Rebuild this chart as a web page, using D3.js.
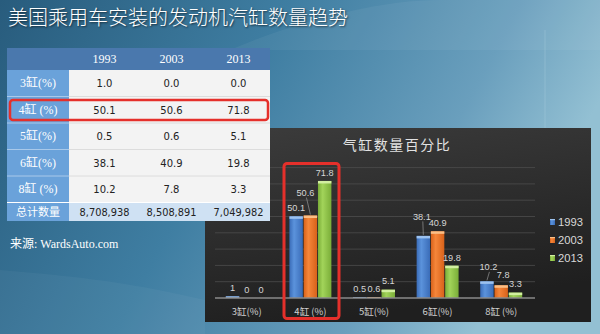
<!DOCTYPE html>
<html><head><meta charset="utf-8">
<script src="https://cdn.jsdelivr.net/npm/d3@7"></script>
<style>html,body{margin:0;padding:0;background:#2a5e7f;}svg{display:block;}</style>
</head><body>
<svg id="c" width="600" height="334"></svg>
<script>
// ---- data ----
const title = "美国乘用车安装的发动机汽缸数量趋势";
const chartTitle = "气缸数量百分比";
const categories = ["3缸(%)", "4缸 (%)", "5缸(%)", "6缸(%)", "8缸 (%)"];
const years = ["1993", "2003", "2013"];
const v1993 = [1.0, 50.1, 0.5, 38.1, 10.2];
const v2003 = [0.0, 50.6, 0.6, 40.9, 7.8];
const v2013 = [0.0, 71.8, 5.1, 19.8, 3.3];
const totals = [8708938, 8508891, 7049982];
const totalLabel = "总计数量";
const source = "来源: WardsAuto.com";
const yTicks = [0, 10, 20, 30, 40, 50, 60, 70, 80];

// ---- styling ----
const seriesVals = [v1993, v2003, v2013];
const colors = [
  {edge:"#3a6cb8", mid:"#5b93dc", cap:"#9cc2f0"},
  {edge:"#d8621a", mid:"#f5863a", cap:"#fbbf86"},
  {edge:"#7aad38", mid:"#a2d45a", cap:"#d2efa0"}
];
const labelNudge = {"1|1":[-5,-14.5], "3|0":[-1.5,-11], "4|0":[1.5,-6], "4|1":[2,-2]};

const svg = d3.select("#c");
const defs = svg.append("defs");

// background
const bg = defs.append("linearGradient").attr("id","bg").attr("x1","0").attr("y1","0").attr("x2","1").attr("y2","0.3");
bg.append("stop").attr("offset","0").attr("stop-color","#285c7d");
bg.append("stop").attr("offset","0.45").attr("stop-color","#3f7ea2");
bg.append("stop").attr("offset","0.8").attr("stop-color","#6a9fbd");
bg.append("stop").attr("offset","1").attr("stop-color","#93c0d3");
svg.append("rect").attr("width",600).attr("height",334).attr("fill","url(#bg)");
svg.append("path").attr("d","M230,50 C300,20 380,0 440,0 L600,0 L600,50 Z").attr("fill","#ffffff").attr("opacity",0.05);
svg.append("path").attr("d","M0,270 C60,275 120,280 205,300 L205,334 L0,334 Z").attr("fill","#ffffff").attr("opacity",0.04);
svg.append("line").attr("x1",545).attr("x2",545).attr("y1",30).attr("y2",128).attr("stroke","#b8d8e6").attr("stroke-width",0.6).attr("opacity",0.5);

// title
svg.append("text").attr("x",8).attr("y",25).text(title)
  .attr("font-family","'Noto Sans CJK SC'").attr("font-size",20).attr("font-weight",300).attr("fill","#ffffff")
  .style("text-shadow","1px 1px 2px rgba(0,0,0,0.6)");

// ---- chart panel ----
const pg = defs.append("linearGradient").attr("id","panel").attr("x1","0").attr("y1","0").attr("x2","0.3").attr("y2","1");
pg.append("stop").attr("offset","0").attr("stop-color","#3c3c3c");
pg.append("stop").attr("offset","1").attr("stop-color","#1f1f1f");
svg.append("rect").attr("x",205).attr("y",128).attr("width",386).attr("height",194).attr("fill","url(#panel)");

svg.append("text").attr("x",397).attr("y",150).attr("text-anchor","middle").text(chartTitle)
  .attr("font-family","'Noto Sans CJK SC'").attr("font-size",14).attr("letter-spacing",1.5).attr("fill","#e2e2e2");

const x0 = d3.scaleBand().domain(categories).range([215,533]).paddingInner(0.34).paddingOuter(0.17);
const x1 = d3.scaleBand().domain(years).range([0, x0.bandwidth()]).paddingInner(0.06);
const y = d3.scaleLinear().domain([0,80]).range([298,167.6]);

// gridlines
svg.append("g").selectAll("line").data(yTicks.slice(1)).join("line")
  .attr("x1",215).attr("x2",535).attr("y1",d=>y(d)).attr("y2",d=>y(d))
  .attr("stroke","#4d4d4d").attr("stroke-width",0.8);

// gradients for bars
colors.forEach((c,i)=>{
  const g = defs.append("linearGradient").attr("id","bar"+i).attr("x1","0").attr("x2","1").attr("y1","0").attr("y2","0");
  g.append("stop").attr("offset","0").attr("stop-color",c.edge);
  g.append("stop").attr("offset","0.35").attr("stop-color",c.mid);
  g.append("stop").attr("offset","1").attr("stop-color",c.edge);
});

const rows = [];
categories.forEach((cat,ci)=>{
  years.forEach((yr,si)=>{
    rows.push({cat, ci, yr, si, v: seriesVals[si][ci]});
  });
});

const bars = svg.append("g");
bars.selectAll("rect.b").data(rows).join("rect").attr("class","b")
  .attr("x",d=>x0(d.cat)+x1(d.yr)).attr("width",x1.bandwidth())
  .attr("y",d=>y(d.v)).attr("height",d=>y(0)-y(d.v))
  .attr("fill",d=>"url(#bar"+d.si+")");
bars.selectAll("rect.cap").data(rows.filter(d=>d.v>0)).join("rect").attr("class","cap")
  .attr("x",d=>x0(d.cat)+x1(d.yr)).attr("width",x1.bandwidth())
  .attr("y",d=>y(d.v)).attr("height",d=>Math.min(2.5, y(0)-y(d.v)))
  .attr("fill",d=>colors[d.si].cap);

// axis line
svg.append("line").attr("x1",215).attr("x2",535).attr("y1",y(0)).attr("y2",y(0)).attr("stroke","#8a8a8a").attr("stroke-width",1.3);

// data labels
const lab = svg.append("g").attr("font-family","'Liberation Sans', Arial").attr("font-size",9.2).attr("fill","#d6d6d6");
rows.forEach(d=>{
  const cx = x0(d.cat)+x1(d.yr)+x1.bandwidth()/2;
  const top = y(d.v);
  const n = labelNudge[d.ci+"|"+d.si] || [0,0];
  const lx = cx+n[0], ly = top-8.5+n[1];
  if (Math.abs(n[1])>5) {
    lab.append("line").attr("x1",lx+1).attr("y1",ly+5).attr("x2",cx).attr("y2",top-1)
      .attr("stroke","#a8a8a8").attr("stroke-width",0.6);
  }
  lab.append("text").attr("x",lx).attr("y",ly+3.3).attr("text-anchor","middle").text(String(d.v));
});

// category labels
svg.append("g").selectAll("text").data(categories).join("text")
  .attr("x",d=>x0(d)+x0.bandwidth()/2).attr("y",315).attr("text-anchor","middle").text(d=>d)
  .attr("font-family","'Noto Sans CJK SC'").attr("font-size",9.5).attr("fill","#d0d0d0");

// legend
const lg = svg.append("g");
years.forEach((yr,i)=>{
  const yy = 222 + i*18;
  lg.append("rect").attr("x",550).attr("y",yy-3).attr("width",5).attr("height",6).attr("fill","url(#bar"+i+")");
  lg.append("rect").attr("x",550).attr("y",yy-3).attr("width",5).attr("height",1.2).attr("fill",colors[i].cap);
  lg.append("text").attr("x",558).attr("y",yy+4).text(yr).attr("font-family","'Liberation Sans', Arial").attr("font-size",11.2).attr("fill","#d8d8d8");
});

// chart red box
svg.append("rect").attr("x",284).attr("y",163.5).attr("width",55).attr("height",155).attr("rx",3)
  .attr("fill","none").attr("stroke","#e5302b").attr("stroke-width",3);

// ---- table ----
const tbl = svg.append("g");
const tx = 7, tRight = 270, lcw = 62;
const colCenters = d3.scaleBand().domain(years).range([tx+lcw, tRight]);
const rowTop = {};
let acc = 70;
categories.forEach(c=>{rowTop[c]=acc; acc+=26.5;});
const totalH = 18.5;

tbl.append("rect").attr("x",tx).attr("y",48).attr("width",tRight-tx).attr("height",22).attr("fill","#4a78ad");
tbl.append("rect").attr("x",tx).attr("y",70).attr("width",lcw).attr("height",acc-70).attr("fill","#6aa2da");
tbl.append("rect").attr("x",tx+lcw).attr("y",70).attr("width",tRight-tx-lcw).attr("height",acc-70).attr("fill","#f3f3f3");
tbl.append("rect").attr("x",tx).attr("y",acc).attr("width",lcw).attr("height",totalH).attr("fill","#6aa2da");
tbl.append("rect").attr("x",tx+lcw).attr("y",acc).attr("width",tRight-tx-lcw).attr("height",totalH).attr("fill","#cfe1f3");
categories.slice(1).forEach(c=>{
  tbl.append("line").attr("x1",tx).attr("x2",tx+lcw).attr("y1",rowTop[c]).attr("y2",rowTop[c]).attr("stroke","#a9c9ea").attr("stroke-width",1);
  tbl.append("line").attr("x1",tx+lcw).attr("x2",tRight).attr("y1",rowTop[c]).attr("y2",rowTop[c]).attr("stroke","#dcdcdc").attr("stroke-width",1);
});
tbl.append("line").attr("x1",tx).attr("x2",tRight).attr("y1",acc).attr("y2",acc).attr("stroke","#ffffff").attr("stroke-width",1);

// header
years.forEach(yr=>{
  tbl.append("text").attr("x",colCenters(yr)+colCenters.bandwidth()/2+2).attr("y",63).attr("text-anchor","middle").text(yr)
    .attr("font-family","'Liberation Serif', serif").attr("font-size",12).attr("fill","#ffffff");
});
categories.forEach((c,ci)=>{
  const cy = rowTop[c]+13.25;
  tbl.append("text").attr("x",tx+lcw/2).attr("y",cy+4).attr("text-anchor","middle").text(c)
    .attr("font-family","'Liberation Serif', 'Noto Sans CJK SC'").attr("font-size",12).attr("fill","#ffffff");
  years.forEach((yr,si)=>{
    tbl.append("text").attr("x",colCenters(yr)+colCenters.bandwidth()/2+2).attr("y",cy+4).attr("text-anchor","middle")
      .text(seriesVals[si][ci].toFixed(1))
      .attr("font-family","'DejaVu Sans', Verdana").attr("font-size",10).attr("fill","#222");
  });
});
tbl.append("text").attr("x",tx+lcw/2).attr("y",acc+13).attr("text-anchor","middle").text(totalLabel)
  .attr("font-family","'Noto Sans CJK SC'").attr("font-size",11).attr("fill","#ffffff");
years.forEach((yr,si)=>{
  tbl.append("text").attr("x",colCenters(yr)+colCenters.bandwidth()/2+2).attr("y",acc+13).attr("text-anchor","middle")
    .text(d3.format(",")(totals[si]))
    .attr("font-family","'DejaVu Sans', Verdana").attr("font-size",9.8).attr("fill","#222");
});
// table red box
tbl.append("rect").attr("x",10).attr("y",100).attr("width",258).attr("height",20).attr("rx",3)
  .attr("fill","none").attr("stroke","#e5302b").attr("stroke-width",2.5);

// source
svg.append("text").attr("x",10).attr("y",248).text(source)
  .attr("font-family","'Liberation Serif', 'Noto Sans CJK SC'").attr("font-size",12).attr("fill","#ffffff");
</script>
</body></html>
